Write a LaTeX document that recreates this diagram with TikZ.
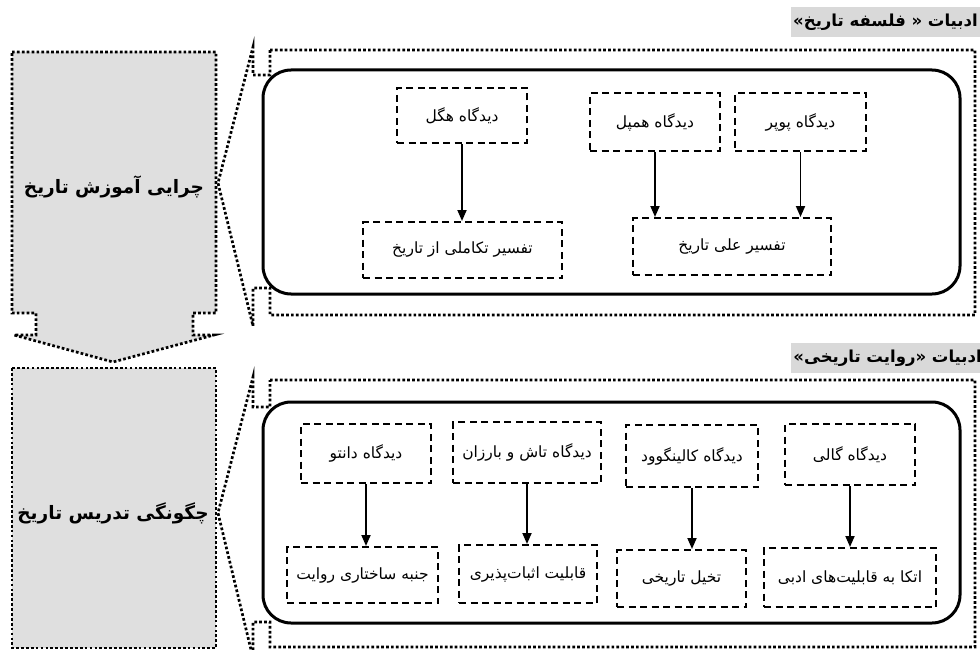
\documentclass[tikz,border=0pt]{standalone}
\usepackage{fontspec}
\usepackage{tikz}
\usetikzlibrary{arrows.meta}
\newfontfamily\farsi[Script=Arabic]{DejaVu Sans}
\TeXXeTstate=1
\newcommand{\fa}[1]{{\farsi\beginR #1\endR}}

\begin{document}
\begin{tikzpicture}[x=1pt,y=-1pt,
  dotline/.style={line width=2.7pt, dash pattern=on 2.7pt off 2.2pt},
  roundframe/.style={line width=3pt, rounded corners=28pt},
  dashbox/.style={draw, line width=2pt, dash pattern=on 7pt off 4.5pt, inner sep=0pt,
    font=\fontsize{15.5}{18}\selectfont},
  flow/.style={line width=1.8pt, -{Triangle[length=11pt,width=9pt]}},
  titlebar/.style={fill=gray!30, inner xsep=2pt, inner ysep=7pt, font=\bfseries\fontsize{16.5}{19}\selectfont},
  bigtext/.style={font=\bfseries\fontsize{18.5}{22}\selectfont}]
  \useasboundingbox (0,0) rectangle (980,650);

  % left column: why -> how
  \draw[dotline, fill=gray!25] (12,52) -- (216,52) -- (216,313) -- (193,313) -- (193,335) -- (214,335)
    -- (113,362) -- (14,335) -- (36,335) -- (36,313) -- (12,313) -- cycle;
  \draw[dotline, fill=gray!25] (12,368) rectangle (216,648);
  \node[bigtext] (why) at (114,187) {\fa{چرایی آموزش تاریخ}};
  \node[bigtext] (how) at (113,513) {\fa{چگونگی تدریس تاریخ}};

  % callouts
  \draw[dotline] (270,50) -- (975,50) -- (975,315) -- (270,315) -- (270,288) -- (253,288) -- (253,326)
    -- (218,183) -- (253,47) -- (253,75) -- (270,75) -- cycle;
  \draw[dotline] (270,380) -- (975,380) -- (975,647) -- (270,647) -- (270,622) -- (253,622) -- (253,658)
    -- (218,513) -- (253,377) -- (253,407) -- (270,407) -- cycle;
  \node[titlebar, anchor=east] (philtitle) at (980,22) {\fa{ادبیات « فلسفه تاریخ»}};
  \node[titlebar, anchor=east] (narrtitle) at (984,358) {\fa{ادبیات «روایت تاریخی»}};

  % philosophy of history
  \draw[roundframe] (263,70) rectangle (960,294);
  \node[dashbox, minimum width=130pt, minimum height=55pt] (hegel) at (462,115.5) {\fa{دیدگاه هگل}};
  \node[dashbox, minimum width=130pt, minimum height=58pt] (hempel) at (655,122) {\fa{دیدگاه همپل}};
  \node[dashbox, minimum width=131pt, minimum height=58pt] (popper) at (800.5,122) {\fa{دیدگاه پوپر}};
  \node[dashbox, minimum width=199pt, minimum height=56pt] (evol) at (462.5,250) {\fa{تفسیر تکاملی از تاریخ}};
  \node[dashbox, minimum width=198pt, minimum height=57pt] (causal) at (732,246.5) {\fa{تفسیر علی تاریخ}};
  \draw[flow] (hegel.south) -- (hegel.south |- evol.north);
  \draw[flow] (hempel.south) -- (hempel.south |- causal.north);
  \draw[flow] (popper.south) -- (popper.south |- causal.north);

  % historical narrative
  \draw[roundframe] (263,402) rectangle (960,623);
  \node[dashbox, minimum width=130pt, minimum height=59pt] (danto) at (366,453.5) {\fa{دیدگاه دانتو}};
  \node[dashbox, minimum width=148pt, minimum height=61pt] (tash) at (527,452.5) {\fa{دیدگاه تاش و بارزان}};
  \node[dashbox, minimum width=132pt, minimum height=62pt] (colling) at (692,456) {\fa{دیدگاه کالینگوود}};
  \node[dashbox, minimum width=130pt, minimum height=61pt] (gallie) at (850,454.5) {\fa{دیدگاه گالی}};
  \node[dashbox, minimum width=151pt, minimum height=56pt] (structure) at (362.5,575) {\fa{جنبه ساختاری روایت}};
  \node[dashbox, minimum width=138pt, minimum height=58pt] (verif) at (528,574) {\fa{قابلیت اثبات‌پذیری}};
  \node[dashbox, minimum width=129pt, minimum height=57pt] (imagin) at (681.5,578.5) {\fa{تخیل تاریخی}};
  \node[dashbox, minimum width=172pt, minimum height=59pt] (literary) at (850,577.5) {\fa{اتکا به قابلیت‌های ادبی}};
  \draw[flow] (danto.south) -- (danto.south |- structure.north);
  \draw[flow] (tash.south) -- (tash.south |- verif.north);
  \draw[flow] (colling.south) -- (colling.south |- imagin.north);
  \draw[flow] (gallie.south) -- (gallie.south |- literary.north);
\end{tikzpicture}
\end{document}
